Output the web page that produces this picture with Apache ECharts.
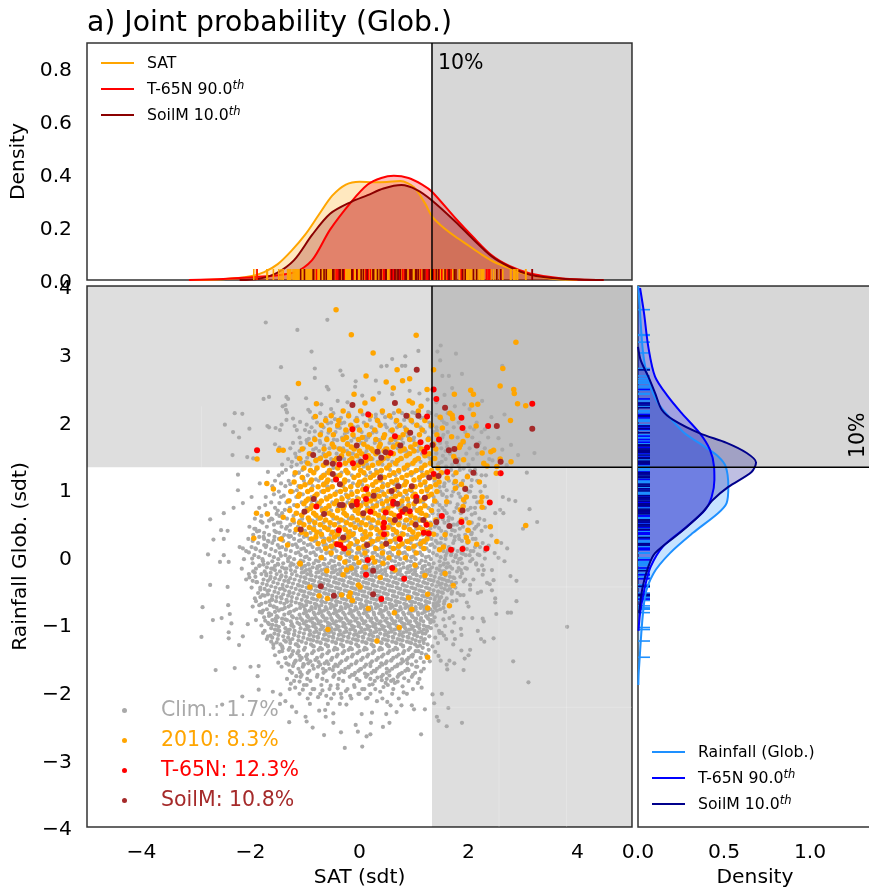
<!DOCTYPE html>
<html><head><meta charset="utf-8">
<script src="https://cdn.jsdelivr.net/npm/echarts@6/dist/echarts.min.js"></script>
<style>html,body{margin:0;padding:0;background:#fff}#c{width:869px;height:889px}</style>
</head><body><div id="c"></div>
<script>
const satP90 = 1.33, rainP90 = 1.32;
const xTicks = [-4,-2,0,2,4], yTicks = [-4,-3,-2,-1,0,1,2,3,4];
const densTicks = [0,0.2,0.4,0.6,0.8], rightTicks = [0,0.5,1];

const climExtra = [[-2.74,-.42],[-2.88,-.75],[-2.9,-1.19],[-2.64,-1.68],[-2.29,-1.65],[-2.69,-.94],[-2.53,-.91],[-2.42,-.45],[-2.41,-.72],[-2.38,-.85],[-2.35,-.99],[-2.4,-1.12],[-2.4,-1.21],[-2.21,-1.31],[-2.14,-1.18],[-2.05,-1],[-2,-1.63],[-1.85,-1.62],[-1.87,-1.77],[-1.85,-1.97],[-2.15,-2.07],[-2.52,-2.19],[-1.59,-2],[-1.45,-2.04],[-1.46,-2.18],[-1.36,-2.14],[-1.24,-2.22],[-1.16,-2.3],[-1.29,-2.45],[-.99,-2.37],[-.97,-2.44],[-.86,-2.53],[-.65,-2.64],[-.34,-2.6],[-.27,-2.83],[.05,-2.81],[-.07,-2.49],[.04,-2.33],[-.48,-2.46],[-.62,-2.37],[-.74,-2.28],[-.63,-2.27],[-.48,-2.32],[-.91,-2.18],[-.58,-2.18],[-.36,-2.18],[-.24,-2.19],[-.03,-2.59],[.13,-2.66],
[3.81,-1.04],[3.1,-1.86],[2.82,-1.55],[2.88,-.66],[2.88,-.36],[2.77,-.29],[2.66,-.07],[2.51,-.85],[2.72,-.83],[2.78,-.83],[2.46,-1.21],[2.29,-1.26],[2.23,-1.22],[2.17,-1.1],[2.26,-.92],[2.28,-.96],[2.07,-.91],[1.91,-.91],[2.03,-1.38],[1.87,-1.39],[2,-1.46],[1.93,-1.51],[1.91,-1.68],[1.74,-1.58],[1.65,-1.54],[1.6,-1.6],[1.61,-1.67],[1.45,-1.47],[1.49,-1.54],[1.51,-2.03],[1.34,-2.04],[1.37,-2.17],[1.63,-2.24],[1.42,-2.37],[1.45,-2.43],[1.6,-2.51],[1.88,-2.46],[1.13,-2.63],[1.2,-2.26],[1,-2.26],[.96,-2.2],[.77,-2.2],[.68,-2.3],[.57,-2.2],[.49,-2.33],[.55,-2.46],[.43,-2.52],[.32,-2.14],[.51,-2.15],[.2,-2.63],[.21,-2.46],[.23,-2.31],[.81,-2.01],[.87,-2.03],[1.14,-1.94],[1.07,-1.87],[.38,-2],[.29,-1.96],[.44,-1.93],[.48,-1.87],[.65,-1.87],[.7,-1.85],[.79,-1.92],[1.44,-1.28],[1.72,-1.3],[1.75,-1.22],[1.59,-1.22],[1.55,-1.17],[1.51,-1.13],[1.39,-1.2],[1.87,-1.16],[1.86,-1.07],[1.7,-1.11],[1.57,-1.03],[1.46,-1.1],[1.47,-1.13],[1.74,-.98],[1.54,-.93],[1.65,-.91],[1.71,-.88],[1.97,-.68],[2,-.74],[1.78,-.65],[1.54,-.76],[1.57,-.82],[1.42,-.8],[1.69,-.55],[1.85,-.57],[1.91,-.57],[2.17,-.54],[2.23,-.52],[2.43,-.5],[2.49,-.62],[2.49,-.68],[2.34,-.39],[2.39,-.41],[2.46,-.35],[2.03,-.42],[2.03,-.49],[1.91,-.37],[1.94,-.34],[2.09,-.34],[2.26,-.27],[2.18,-.2],[2.28,-.2],[2.25,-.13],[2.14,-.12],[2.43,-.2],[1.94,-.17],[1.88,-.25],[1.66,-.15],[1.6,-.16],[1.8,-.09],[2.03,-.07],
[-1.72,3.46],[-1.14,3.35],[-.59,3.5],[-.88,3.03],[-1.44,2.8],[-.82,2.78],[-.82,2.64],[-.35,2.75],[-.31,2.68],[-.07,2.59],[-.08,2.51],[-.6,2.51],[-.57,2.47],[-1.34,2.36],[-1.31,2.33],[-1.36,2.24],[-1.41,2.22],[-1.76,2.33],[-1.66,2.36],[-.98,2.34],[-2.29,2.12],[-2.15,2.11],[-2.47,1.95],[-2.32,1.84],[-2.21,1.76],[-2.02,1.89],[-2.33,1.5],[-2.06,1.47],[-1.95,1.45],[-1.69,1.93],[-1.66,1.91],[-1.54,1.9],[-1.43,1.95],[-1.46,1.87],[-1.55,1.66],[-1.47,1.61],[-1.34,2.02],[-1.22,2.04],[-1.09,1.99],[-1.19,1.93],[-1.15,1.87],[-.97,1.95],[-1,1.87],[-.94,2.17],[-.91,2.14],[-1.33,2.13],[-1.35,2.17],
[1.49,3.12],[1.43,3.03],[1.77,3],[1.48,2.9],[1.88,2.7],[1.52,2.67],[1.64,2.67],[1.08,3.04],[.84,2.96],[.6,2.92],[.4,2.81],[.5,2.82],[.78,2.82],[.84,2.82],[1.7,2.49],[2.25,2.3],[2.66,2.1],[2.62,2.82],[3.21,1.53],[2.91,1.5],[3.07,1.24],[3.12,.7],[3.26,.51],[3,.41],[2.74,.84],[2.86,.82],[2.63,.88],[2.49,.64],[2.64,.64],[2.58,.69],[2.29,.54],[2.31,.44],
[-2.23,1.21],[-2.23,.98],[-1.83,1.08],[-1.68,1.25],[-1.98,.88],[-2.14,.79],[-2.31,.72],[-2.49,.64],[-2.74,.55],[-2.54,.39],[-2.42,.38],[-2.68,.25],[-2.49,.26],[-2.2,.14],[-2.14,.12],[-2.78,.03],[-2.49,.02],[-2.56,-.08],[-2.4,-.08],[2.6,.2],[2.48,.05],[2.71,.12],[2.55,-.02],[2.42,.31],[2.37,.16],[2.3,-.03],[1.25,2.32],[1.41,2.28],[1.1,2.41],[.92,2.45],[.3,2.6],[.05,2.38],[-.4,2.3],[-.22,2.28],[-.7,2.25],[-.52,2.18],[.6,2.4],[.36,2.42],[1.56,2.39],[2.02,2.18],[1.92,2.25],[2.42,2.06],[2.3,1.88],[2.55,1.75],[2.1,1.88],[2.78,1.65],[2.62,1.58],[2.44,1.42],[1.75,2.22],[1.6,1.96],[2.7,1.35],[2.32,1.2]];

const climClumps = [[-1.93,.41],[-1.88,.37],[-1.81,.52],[-1.76,.29],[-1.71,.16],[-1.67,.22],[-2.03,.06],[-1.97,-.03],[-1.91,.12],[-1.83,-.13],[-1.77,-.07],[-1.71,-.26],[-1.64,-.33],[-1.59,-.18],[-2.02,-.31],[-1.95,-.22],[-1.89,-.38],[-1.82,-.49],[-1.78,-.57],[-1.69,-.51],[-1.61,-.63],[-1.57,-.74],[-1.9,-.66],[-1.84,-.72],[-1.79,-.83],[-1.73,-.95],[-1.66,-.88],[-1.6,-1.01],[-1.54,-.92],[-1.5,-1.09],[-1.77,-1.13],[-1.7,-1.22],[-1.63,-1.17],[-1.58,-1.3],[-1.52,-1.27],[-1.47,-1.41],[-1.41,-1.36],[-1.36,-1.5],[-1.55,-1.46],[-1.49,-1.57],[-1.43,-1.63],[-1.34,-1.58],[-1.28,-1.69],[-1.22,-1.62],[-1.16,-1.77],[-1.09,-1.71],[-1.33,-1.81],[-1.26,-1.88],[-1.18,-1.94],[-1.1,-1.85],[-1.04,-1.97],[-.97,-1.9],[-.9,-2.03],[-.83,-1.96],[-.76,-2.08],[-.68,-1.98],[-.61,-2.06],[-.53,-1.91],[-.47,-2.03],[-.4,-1.95],[-.33,-2.09],[-.25,-1.99],[-.17,-2.06],[-.09,-1.93],[0,-2.03],[.09,-1.96],[.15,-2.09],[.24,-1.89],[.33,-1.79],[.41,-1.83],[.55,-1.76],[.62,-1.82],[.74,-1.74],[.82,-1.8],[.9,-1.68],[.98,-1.75],[1.06,-1.63],[1.13,-1.7],[1.18,-1.56],[1.23,-1.47],[1.27,-1.38],[1.29,-1.55],[1.34,-1.33],[1.39,-1.41],[1.41,-1.02],[1.36,-.96],[1.42,-.69],[1.47,-.62],[1.51,-.53],[1.56,-.66],[1.59,-.43],[1.63,-.36],[1.66,-.47],[1.72,-.31],[1.77,-.39],[1.82,-.17],[1.86,-.03],[1.9,.04],[1.77,.02],[1.69,.05],[1.62,.09],[1.97,.11],[2.02,.02],[2.09,.08],[2.17,.03],[2.21,.14],[2.13,.26],[2.05,.33],[2.11,.41],[2.18,.47],[2.06,.62],[1.99,.69],[2.12,.72],[1.74,.24],[1.82,.31],[1.7,.39],[1.79,.47],[1.64,.58],[1.74,.66],[1.8,.77],[1.69,.9],[1.82,.93],[2.03,.96],[2.13,.88],[2.06,1.13],[2.13,1.22],[2.03,1.27],[1.91,1.3],[1.82,1.35],[1.68,1.28],[1.59,1.33],[1.46,1.38],[1.53,1.49],[1.41,1.53],[1.61,1.62],[1.48,1.68],[1.54,1.8],[1.42,1.86],[1.3,1.92],[1.17,1.87],[1.06,1.95],[.99,1.72],[.89,1.78],[.77,1.74],[.69,1.91],[.56,1.86],[.47,1.95],[.34,1.72],[.24,1.83],[.1,1.77],[-.03,1.92],[-.15,1.71],[-.27,1.81],[-.36,1.9],[-.47,1.73],[-.57,1.83],[-.65,1.64],[-.73,1.71],[-.85,1.58],[-.96,1.46],[-1.07,1.39],[-1.16,1.47],[-1.25,1.33],[-1.12,1.24],[-1.03,1.16],[-1.27,1.07],[-1.15,.98],[-1.39,.9],[-1.28,.83],[-1.47,.79],[-1.37,.69],[-1.52,.63],[-1.6,.55],[-1.45,.5],[-1.33,.44],[-1.53,.36],[-1.42,.28],[-1.31,.31],[-1.57,.24],[-1.47,.13],[-1.35,.1],[-1.44,.01],[-1.31,-.03],[-1.5,-.11],[-1.37,-.18],[-1.25,-.1],[-1.44,-.3],[-1.31,-.36],[-1.41,-.47],[-1.28,-.54],[-1.44,-.6],[-1.33,-.67],[-1.41,-.78],[-1.29,-.83],[-1.36,-.93],[-1.24,-1],[-1.31,-1.09],[-1.2,-1.15],[-1.27,-1.24],[-1.15,-1.3],[-1.22,-1.4],[-1.1,-1.47],[-1.17,-1.54],[-1.03,-1.59],[-.96,-1.52],[-.86,-1.61],[-.75,-1.56],[-.67,-1.66],[-.57,-1.59],[-.49,-1.68],[-.4,-1.62],[-.28,-1.71],[-.2,-1.64],[-.1,-1.75],[.01,-1.67],[.1,-1.73],[.2,-1.62],[.29,-1.7],[.4,-1.58],[.5,-1.66],[.58,-1.54],[.69,-1.62],[.78,-1.52],[.88,-1.58],[.95,-1.47],[1.03,-1.4],[1.11,-1.32],[1.17,-1.24],[1.21,-1.14],[1.26,-1.04],[1.29,-.94],[1.33,-.86],[1.36,-.73],[1.39,-.6],[1.44,-.52],[1.47,-.42],[1.51,-.33],[1.53,-.22],[1.55,-.1],[1.58,.01],[1.43,.2],[1.5,.27],[1.58,.36],[1.46,.42],[1.53,.55],[1.45,.62],[1.56,.68],[1.47,.76],[1.52,.91],[1.6,.98],[1.47,1.03],[1.56,1.08],[-1.08,1.68],[-.93,1.74],[-.82,1.85],[-.7,1.94],[-.58,1.97],[-.45,2.03],[-.33,1.97],[-.2,2.07],[-.08,2.01],[.06,2.1],[.19,2.02],[.3,2.1],[.47,2.06],[.63,2.12],[.82,2.02],[.97,2.13],[1.12,2.05],[1.26,2.14],[1.41,2.09],[1.51,2.02],[.38,1.63],[.13,1.56],[-.12,1.52],[-.39,1.6],[.62,1.66],[.86,1.56],[1.09,1.62],[1.26,1.48],[-.7,1.47],[-.48,1.31],[-.2,1.24],[.08,1.33],[.35,1.26],[.62,1.22],[.88,1.3],[1.14,1.26],[-.8,1.14],[-.58,1.03],[-.25,.99],[.05,1.06],[.37,.97],[.64,1.07],[.91,.98],[1.22,1.03],[-.88,.82],[-.55,.73],[-.2,.86],[.14,.74],[.4,.83],[.76,.72],[1.02,.78],[1.28,.71],[-1.06,.5],[-.76,.56],[-.44,.48],[-.11,.57],[.22,.46],[.52,.56],[.82,.47],[1.1,.56]];

const climRows = [
[2.12,-.72,-.48,-.2,.15,.42,.78,1.02,1.3,1.62],
[2.05,-.85,-.62,-.34,-.05,.3,.58,.9,1.18,1.48,1.88],
[1.98,-.78,-.52,-.28,.08,.36,.66,.97,1.28,1.55,1.82,2.15],
[1.91,-.88,-.66,-.41,-.1,.22,.5,.83,1.12,1.41,1.73,2.03],
[1.84,-.92,-.7,-.44,-.22,.04,.31,.6,.86,1.2,1.36,1.62,1.94,2.24],
[1.76,-1.1,-.83,-.6,-.32,-.1,.16,.45,.72,1,1.27,1.52,1.8,2.07,2.36],
[1.68,-1.22,-.96,-.72,-.5,-.22,.03,.28,.55,.8,1.1,1.35,1.6,1.92,2.2],
[1.6,-1.27,-1.02,-.8,-.55,-.3,-.08,.2,.47,.7,.98,1.22,1.5,1.78,2.02,2.3],
[1.52,-1.18,-.9,-.66,-.42,-.16,.1,.36,.62,.89,1.15,1.41,1.66,1.96,2.16],
[1.44,-1.31,-1.08,-.78,-.52,-.28,0,.24,.52,.78,1.04,1.3,1.58,1.82,2.08,2.38],
[1.36,-1.42,-1.15,-.9,-.62,-.36,-.11,.14,.42,.68,.92,1.2,1.44,1.7,2.0,2.27],
[1.28,-1.35,-1.05,-.8,-.55,-.24,.03,.3,.56,.82,1.08,1.33,1.6,1.84,2.12],
[1.2,-1.48,-1.2,-.95,-.68,-.42,-.14,.12,.4,.66,.95,1.21,1.47,1.72,1.98,2.24],
[1.12,-1.55,-1.3,-1.02,-.75,-.5,-.2,.06,.32,.58,.84,1.1,1.38,1.64,1.9,2.16],
[1.04,-1.6,-1.36,-1.12,-.86,-.6,-.3,-.03,.25,.52,.77,1.02,1.3,1.55,1.8,2.05,2.3],
[.96,-1.48,-1.22,-.95,-.7,-.42,-.15,.14,.42,.7,.96,1.24,1.48,1.72,2,2.22],
[.88,-1.72,-1.44,-1.16,-.88,-.62,-.33,-.05,.22,.5,.8,1.08,1.36,1.6,1.85,2.1,2.34],
[.8,-1.62,-1.34,-1.06,-.78,-.5,-.22,.06,.33,.6,.9,1.17,1.42,1.66,1.93,2.16],
[.72,-1.84,-1.55,-1.28,-.97,-.7,-.4,-.14,.16,.44,.71,1,1.26,1.52,1.78,2.04,2.3],
[.64,-1.7,-1.42,-1.14,-.85,-.6,-.3,-.02,.26,.54,.82,1.1,1.34,1.6,1.86,2.12],
[.56,-1.92,-1.62,-1.33,-1.05,-.77,-.48,-.2,.08,.36,.65,.93,1.2,1.44,1.7,1.96,2.2],
[.5,-1.78,-1.5,-1.2,-.92,-.66,-.38,-.1,.19,.47,.74,1.02,1.3,1.56,1.82,2.06],
[.44,-2.02,-1.7,-1.43,-1.13,-.83,-.55,-.28,.02,.3,.57,.85,1.12,1.38,1.63,1.9,2.14],
[.38,-1.84,-1.56,-1.28,-1,-.72,-.44,-.17,.11,.4,.68,.96,1.23,1.5,1.75,2.01,2.24],
[.32,-1.95,-1.66,-1.38,-1.1,-.8,-.53,-.25,.05,.33,.61,.88,1.16,1.42,1.68,1.94],
[.26,-2.04,-1.75,-1.48,-1.2,-.92,-.64,-.36,-.08,.2,.48,.76,1.04,1.32,1.58,1.83,2.08],
[.2,-1.86,-1.6,-1.3,-1.02,-.75,-.46,-.18,.12,.4,.67,.94,1.22,1.49,1.72,1.98,2.26],
[.14,-1.98,-1.72,-1.42,-1.14,-.86,-.58,-.3,0,.28,.56,.84,1.12,1.38,1.64,1.9,2.12],
[.08,-2.08,-1.82,-1.54,-1.26,-.98,-.7,-.42,-.14,.15,.44,.72,1,1.28,1.54,1.8,2.04,2.3],
[.02,-1.93,-1.65,-1.36,-1.08,-.8,-.52,-.24,.04,.33,.6,.87,1.15,1.42,1.68,1.95,2.2],
[-.04,-2.12,-1.78,-1.49,-1.2,-.92,-.64,-.36,-.1,.18,.46,.75,1.03,1.31,1.57,1.83,2.07],
[-.1,-1.96,-1.68,-1.4,-1.12,-.84,-.56,-.26,-.02,.24,.52,.8,1.1,1.36,1.62,1.88,2.14],
[-.14,-1.84,-1.55,-1.27,-1,-.73,-.45,-.17,.1,.38,.66,.93,1.2,1.48],
[-.18,-2.16,-1.9,-1.62,-1.34,-1.06,-.78,-.5,-.22,.05,.32,.6,.88,1.15,1.42,1.7,1.97],
[-.22,-1.74,-1.46,-1.18,-.9,-.62,-.35,-.07,.2,.47,.74,1.02,1.29,1.56,1.79],
[-.26,-2.03,-1.8,-1.52,-1.24,-.96,-.68,-.4,-.12,.15,.42,.7,.98,1.24,1.5],
[-.3,-1.91,-1.63,-1.35,-1.08,-.8,-.53,-.25,.03,.3,.58,.85,1.12,1.38,1.66,1.85],
[-.34,-2.08,-1.76,-1.47,-1.19,-.91,-.64,-.37,-.09,.18,.46,.73,1.01,1.27,1.55],
[-.38,-1.88,-1.58,-1.3,-1.02,-.74,-.47,-.2,.07,.35,.62,.9,1.17,1.44,1.69],
[-.42,-1.7,-1.41,-1.13,-.86,-.58,-.3,-.04,.24,.51,.79,1.06,1.33,1.58],
[-.46,-1.98,-1.82,-1.54,-1.25,-.97,-.7,-.43,-.15,.12,.4,.68,.95,1.22,1.5,1.76],
[-.5,-1.66,-1.37,-1.09,-.81,-.55,-.27,0,.28,.55,.83,1.1,1.36,1.62],
[-.54,-1.86,-1.49,-1.21,-.93,-.65,-.38,-.11,.17,.44,.72,1,1.27,1.53,1.8],
[-.58,-1.74,-1.6,-1.31,-1.03,-.76,-.49,-.21,.06,.33,.61,.88,1.15,1.43],
[-.62,-1.92,-1.43,-1.15,-.87,-.6,-.32,-.05,.22,.5,.77,1.04,1.3,1.6],
[-.66,-1.65,-1.53,-1.25,-.98,-.7,-.43,-.16,.12,.39,.66,.93,1.21,1.46,1.7],
[-.7,-1.8,-1.38,-1.1,-.82,-.54,-.27,.01,.28,.55,.82,1.09,1.36,1.55],
[-.74,-1.96,-1.58,-1.3,-1.02,-.74,-.47,-.2,.07,.34,.61,.89,1.17,1.4],
[-.78,-1.7,-1.44,-1.16,-.88,-.6,-.33,-.05,.22,.49,.76,1.03,1.3,1.48],
[-.82,-1.83,-1.55,-1.27,-.98,-.7,-.42,-.15,.13,.4,.67,.94,1.2,1.35],
[-.86,-1.62,-1.38,-1.1,-.82,-.54,-.27,0,.27,.55,.82,1.08,1.29],
[-.9,-1.75,-1.5,-1.22,-.94,-.66,-.38,-.11,.16,.43,.7,.98,1.24,1.38],
[-.94,-1.9,-1.6,-1.33,-1.05,-.77,-.5,-.22,.05,.32,.6,.87,1.12,1.32],
[-.98,-1.68,-1.42,-1.14,-.86,-.58,-.3,-.03,.24,.51,.78,1.05,1.3],
[-1.02,-1.8,-1.53,-1.25,-.97,-.7,-.42,-.14,.14,.41,.68,.95,1.18],
[-1.06,-1.62,-1.36,-1.08,-.8,-.52,-.25,.03,.3,.57,.84,1.1,1.31],
[-1.1,-1.74,-1.47,-1.19,-.91,-.63,-.36,-.08,.2,.47,.74,1.01,1.24],
[-1.14,-1.56,-1.3,-1.02,-.74,-.47,-.18,.1,.38,.65,.92,1.16],
[-1.18,-1.68,-1.4,-1.12,-.84,-.56,-.29,-.02,.25,.53,.8,1.06,1.28],
[-1.22,-1.5,-1.23,-.95,-.67,-.4,-.12,.16,.43,.7,.97,1.2],
[-1.26,-1.62,-1.35,-1.06,-.78,-.5,-.23,.05,.32,.6,.87,1.1],
[-1.3,-1.45,-1.17,-.89,-.62,-.34,-.06,.22,.5,.76,1.02,1.25],
[-1.35,-1.58,-1.28,-1,-.72,-.45,-.17,.1,.38,.66,.93,1.16],
[-1.4,-1.42,-1.12,-.84,-.56,-.28,0,.27,.55,.82,1.08],
[-1.45,-1.24,-.96,-.68,-.4,-.12,.16,.44,.72,.98,1.22],
[-1.5,-1.36,-1.06,-.78,-.5,-.22,.06,.34,.62,.9,1.12],
[-1.55,-1.18,-.9,-.6,-.33,-.05,.23,.5,.8,1.04],
[-1.6,-1.3,-1.02,-.72,-.44,-.15,.12,.42,.7,.96],
[-1.66,-1.12,-.84,-.55,-.26,.03,.32,.6,.88,1.18],
[-1.72,-1.24,-.95,-.66,-.37,-.08,.22,.5,.78,1.02],
[-1.78,-1.08,-.78,-.48,-.18,.12,.4,.7,.96],
[-1.84,-1.2,-.9,-.6,-.3,0,.28,.58,.9],
[-1.9,-1.02,-.7,-.4,-.1,.18,.52],
[-1.96,-1.28,-.86,-.55,-.22,.05,.62,.98],
[-2.03,-1.1,-.72,-.34,-.02,.2,.6],
[-2.1,-.95,-.52,-.15,.12,.42,.72]
];
const climRowsB = [
[1.72,-.97,-.41,.12,.37,.66,.93,1.44],[1.56,-1.1,-.74,-.23,.29,.55,.81,1.07,1.58],[1.4,-1.24,-.99,-.45,-.04,.33,.6,1.12,1.51],
[1.24,-1.42,-1.11,-.6,-.33,.2,.73,1,1.54],[1.08,-1.44,-.93,-.66,-.12,.43,.7,1.2,1.73],[.92,-1.57,-1.04,-.79,-.25,.31,.6,.87,1.53],
[.76,-1.73,-1.2,-.89,-.33,.24,.53,.79,1.34,1.59],[.68,-1.5,-1.02,-.52,-.07,.38,.95,1.45],[.6,-1.8,-1.47,-1.21,-.69,-.13,.45,.73,1.27,1.53],
[.53,-1.66,-1.1,-.86,-.29,.27,.83,1.08,1.63],[.47,-1.57,-1.27,-.73,-.47,-.02,.55,.9,1.41,1.73],[.41,-1.91,-1.35,-1.06,-.6,-.36,.2,.48,1.04,1.3,1.84],
[.35,-1.75,-1.47,-1.19,-.9,-.37,-.1,.51,.77,1.31,1.59,2.06],[.29,-1.84,-1.56,-1.29,-1.02,-.7,-.45,.13,.39,.94,1.24,1.75],[.23,-1.96,-1.68,-1.4,-1.11,-.83,-.55,-.27,.3,.58,.85,1.12,1.4,1.88],
[.17,-1.75,-1.5,-1.23,-.95,-.66,-.4,-.09,.19,.47,.76,1.04,1.3,1.56],[.11,-1.9,-1.62,-1.35,-1.07,-.78,-.5,-.22,.07,.35,.63,.92,1.2,1.46,1.72],[.05,-1.73,-1.46,-1.17,-.9,-.61,-.33,-.05,.24,.52,.79,1.08,1.35,1.6,1.87],
[-.01,-1.85,-1.57,-1.28,-1,-.72,-.44,-.17,.11,.39,.67,.95,1.22,1.49,1.76],[-.07,-1.6,-1.31,-1.03,-.75,-.47,-.19,.09,.37,.65,.94,1.21,1.47,1.72],[-.12,-1.76,-1.49,-1.21,-.93,-.64,-.37,-.09,.17,.45,.73,1.01,1.28,1.54],
[-.16,-1.7,-1.42,-1.15,-.86,-.59,-.31,-.04,.25,.53,.81,1.06,1.33,1.6],[-.2,-1.55,-1.26,-.98,-.7,-.43,-.15,.13,.4,.68,.95,1.23,1.47,1.86],[-.24,-1.92,-1.63,-1.35,-1.06,-.79,-.51,-.24,.04,.31,.59,.86,1.14,1.4,1.65],
[-.28,-1.71,-1.43,-1.15,-.88,-.6,-.32,-.04,.23,.5,.78,1.05,1.31,1.58],[-.32,-1.55,-1.27,-.99,-.71,-.44,-.16,.11,.39,.66,.94,1.2,1.47,1.74],[-.36,-1.96,-1.68,-1.38,-1.1,-.83,-.56,-.29,-.01,.26,.54,.81,1.09,1.36,1.6],
[-.4,-1.78,-1.5,-1.22,-.94,-.66,-.38,-.12,.16,.43,.7,.98,1.25,1.51],[-.44,-1.62,-1.33,-1.05,-.78,-.51,-.23,.05,.32,.6,.87,1.14,1.41,1.66],[-.48,-1.74,-1.46,-1.17,-.89,-.62,-.35,-.07,.2,.47,.75,1.03,1.29,1.56],
[-.52,-1.56,-1.29,-1.01,-.73,-.46,-.19,.09,.37,.64,.91,1.18,1.45,1.7],[-.56,-1.68,-1.4,-1.12,-.84,-.57,-.3,-.02,.25,.52,.8,1.07,1.34],[-.6,-1.82,-1.52,-1.24,-.96,-.69,-.41,-.14,.14,.41,.69,.96,1.24,1.5],
[-.64,-1.6,-1.34,-1.06,-.78,-.51,-.24,.03,.31,.58,.85,1.13,1.38],[-.68,-1.72,-1.45,-1.17,-.9,-.62,-.35,-.08,.2,.47,.74,1.02,1.28],[-.72,-1.64,-1.26,-.98,-.7,-.43,-.15,.12,.4,.67,.95,1.22,1.45],
[-.76,-1.52,-1.37,-1.09,-.81,-.53,-.26,.02,.3,.57,.84,1.12,1.38],[-.8,-1.77,-1.48,-1.2,-.92,-.65,-.37,-.1,.18,.45,.72,1,1.26],[-.84,-1.66,-1.3,-1.02,-.75,-.47,-.19,.08,.36,.63,.9,1.15],
[-.88,-1.52,-1.24,-.96,-.68,-.4,-.13,.15,.42,.7,.96,1.22],[-.92,-1.42,-1.15,-.87,-.6,-.33,-.05,.22,.5,.77,1.04,1.26],[-.96,-1.53,-1.26,-.98,-.71,-.43,-.16,.11,.39,.66,.93,1.17],
[-1,-1.66,-1.4,-1.1,-.82,-.54,-.27,0,.29,.56,.83,1.1],[-1.04,-1.48,-1.21,-.93,-.66,-.38,-.1,.18,.45,.72,.99,1.23],[-1.08,-1.55,-1.28,-1,-.72,-.45,-.17,.1,.37,.64,.91,1.18],
[-1.12,-1.36,-1.1,-.83,-.56,-.28,0,.27,.54,.81,1.08],[-1.16,-1.49,-1.2,-.92,-.65,-.38,-.1,.18,.46,.73,1],[-1.2,-1.6,-1.31,-1.03,-.76,-.48,-.2,.07,.34,.62,.9,1.13],
[-1.24,-1.38,-1.12,-.85,-.58,-.31,-.03,.24,.52,.79,1.03],[-1.28,-1.27,-.98,-.71,-.43,-.15,.13,.41,.68,.95,1.18],[-1.33,-1.42,-1.12,-.84,-.58,-.3,-.02,.26,.54,.8,1.06],
[-1.38,-1.3,-1.02,-.75,-.47,-.2,.08,.36,.62,.9],[-1.43,-1.14,-.87,-.59,-.31,-.04,.24,.52,.8,1.14],[-1.48,-1.27,-.98,-.7,-.42,-.14,.14,.41,.68,.97],
[-1.53,-1.09,-.81,-.52,-.25,.03,.31,.59,.87],[-1.58,-1.2,-.94,-.64,-.36,-.07,.2,.48,.76],[-1.63,-1.04,-.76,-.47,-.2,.09,.37,.65,1.04],
[-1.69,-.92,-.62,-.33,-.02,.26,.55,.84],[-1.75,-1.06,-.77,-.46,-.14,.15,.43,.72],[-1.81,-.96,-.68,-.38,-.05,.2,.5,1.1]
];
const climRowsC = [
[.3,-1.26,-.97,-.68,-.4,-.14,.14,.43,.7,.99,1.27],[.24,-1.08,-.8,-.5,-.22,.06,.34,.62,.9,1.17],[.18,-1.17,-.9,-.62,-.34,-.05,.22,.5,.79,1.07,1.33],
[.12,-1.02,-.74,-.46,-.18,.1,.38,.66,.95,1.23],[.06,-1.12,-.84,-.56,-.28,0,.28,.56,.83,1.11],[0,-.97,-.69,-.41,-.13,.14,.43,.71,.99,1.27],
[-.06,-1.08,-.8,-.52,-.24,.04,.31,.59,.87,1.14],[-.11,-.94,-.66,-.38,-.11,.16,.44,.72,1,1.27],[-.15,-1.05,-.77,-.5,-.22,.07,.33,.61,.89,1.16],
[-.19,-.92,-.64,-.36,-.09,.19,.47,.75,1.02,1.29],[-.23,-1.02,-.75,-.47,-.2,.08,.36,.63,.91,1.18],[-.27,-.9,-.62,-.34,-.06,.21,.49,.76,1.04],
[-.31,-1.01,-.73,-.46,-.18,.1,.37,.65,.92,1.19],[-.35,-.87,-.59,-.32,-.04,.23,.51,.78,1.06,1.31],[-.39,-.99,-.71,-.43,-.16,.12,.4,.67,.94,1.2],
[-.43,-1.11,-.83,-.55,-.28,0,.27,.55,.82,1.09],[-.47,-.94,-.67,-.39,-.11,.16,.44,.71,.99,1.26],[-.51,-1.06,-.78,-.5,-.23,.04,.32,.6,.87,1.14],
[-.55,-.9,-.62,-.34,-.07,.21,.48,.76,1.03,1.3],[-.59,-1.01,-.73,-.45,-.18,.1,.37,.64,.92,1.19],[-.63,-.84,-.56,-.29,-.02,.26,.53,.81,1.08],
[-.67,-.95,-.68,-.4,-.12,.15,.42,.7,.97,1.24],[-.71,-1.06,-.79,-.51,-.23,.04,.32,.59,.86,1.13],[-.75,-.88,-.62,-.34,-.07,.21,.48,.75,1.03],
[-.79,-1,-.73,-.45,-.17,.1,.38,.65,.92,1.19],[-.83,-.84,-.57,-.3,-.02,.26,.53,.8,1.07],[-.87,-.96,-.68,-.41,-.13,.14,.42,.69,.96],
[-.91,-1.08,-.8,-.52,-.25,.03,.3,.58,.85,1.13],[-.95,-.91,-.63,-.36,-.08,.2,.47,.74,1.02],[-.99,-1.02,-.75,-.47,-.19,.08,.36,.63,.9],
[-1.03,-.85,-.58,-.3,-.02,.25,.53,.8,1.06],[-1.07,-.96,-.69,-.41,-.13,.15,.42,.69,.96],[-1.11,-.79,-.52,-.24,.04,.31,.59,.86,1.13],
[-1.15,-.9,-.62,-.34,-.06,.21,.49,.76,1.02],[-1.19,-.77,-.49,-.21,.06,.33,.61,.88],[-1.23,-.9,-.62,-.34,-.07,.2,.47,.74],
[-1.27,-.72,-.44,-.17,.11,.39,.66,.92],[-1.32,-.86,-.58,-.3,-.03,.25,.52,.8],[-1.37,-.69,-.41,-.14,.13,.41,.69]
];
const clim = climExtra.concat(climClumps,[...climRows,...climRowsB,...climRowsC].flatMap(r => r.slice(1).map(x => [x, r[0]])));

const y2010Extra = [[-.43,3.65],[-.15,3.28],[1.04,3.27],[2.87,3.17],[.25,3.01],[2.63,2.78],[.69,2.76],[1.36,2.76],[.12,2.67],[.92,2.63],[.79,2.6],[.49,2.58],[-1.12,2.56],[2.58,2.52],[.62,2.49],[1.24,2.47],[2.04,2.46],[2.83,2.47],[2.84,2.41],[1.74,2.4],[2.09,2.4],[-.1,2.4],[.25,2.33],[.1,2.27],[-.79,2.26],[.91,2.3],[.97,2.27],[1.13,2.22],[2.06,2.24],[2.17,2.25],[2.9,2.26],[3.05,2.23],[2.09,2.1],[-.81,2.07],[2.77,2.01],[2.14,1.93],[1.7,2.09],[1.71,2.04],[1.48,2.06],[1.66,2.12],[1.52,1.9],[1.69,1.77],[1.98,1.79],[1.9,1.7],[1.85,1.65],[1.83,1.61],[2.25,1.53],[2.46,1.57],[2.41,1.55],[1.73,1.48],[1.76,1.43],[1.91,1.43],[2.78,1.4],[2.58,1.44],[2.28,1.38],[2.34,1.34],[2.51,1.23],[2.52,1.33],[1.77,1.24],[1.61,1.16],[1.98,1.18],[1.76,1.11],[1.87,1.07],[2.2,1.1],[1.76,1.01],[1.94,1.01],[-1.48,1.57],[-1.4,1.57],[-1.88,1.44],[-1.7,1.08],[-1.58,1],[-1.89,.64],[-1.69,.63],[-1.4,.58],[-1.94,.27],[-1.44,.26],[-1.32,.17],[-1.09,-.11],[2.25,.88],[2.23,.81],[2.25,.73],[1.91,.84],[1.96,.88],[1.9,.74],[1.6,.81],[1.85,.69],[1.87,.54],[2.01,.5],[1.99,.39],[1.96,.28],[1.99,.22],[2.15,.18],[2.4,.44],[2.52,.22],[3.05,.46],[1.72,-.43],[1.57,-.25],[1.54,.14],[1.47,.1],[1.57,.32],[1.65,-.73],[1.25,-.56],[1.2,-.28],[1.25,-.76],[.96,-.78],[.9,-.61],[.64,-.83],[.73,-1.05],[.32,-1.25],[1.25,-1.49],[1.02,-.13],[.43,-.1],[.28,-.08],[.38,-.31],[.65,-.2],[-1.09,-.1],[-.6,-.21],[-.91,-.45],[-.74,-.58],[-.59,-.62],[-.33,-.57],[-.17,-.54],[-.19,-.59],[-.13,-.65],[-.02,-.42],[.01,-.45],[.16,-.77],[-.58,-1.08],[-.3,-.27],[-.24,-.2],[-.15,-.17],[.11,-.16],[-.01,-.09],[-.27,-.08]];
const y2010Rows = [
[2.15,-.3,.02,.42,.72,1.08],[2.08,-.52,-.2,.2,.55,.88],[2.01,-.62,-.38,-.05,.33,.68,.95,1.2],
[1.94,-.7,-.4,-.16,.13,.38,.74,1.05,1.32],[1.87,-.55,-.25,.0,.28,.6,.86,1.15],[1.8,-.72,-.48,-.12,.18,.46,.8,1.1,1.42],
[1.73,-.82,-.6,-.3,-.02,.3,.58,.92,1.26],[1.66,-.9,-.5,-.22,.08,.38,.7,1.02,1.36],[1.59,-1.05,-.65,-.36,-.1,.22,.5,.82,1.14,1.4],
[1.52,-.92,-.56,-.2,.04,.3,.62,.92,1.28],[1.45,-1.1,-.72,-.42,-.14,.2,.44,.76,1.08,1.38],[1.38,-.95,-.6,-.26,.06,.35,.66,.98,1.3],
[1.31,-1.02,-.78,-.4,-.1,.16,.5,.82,1.14,1.44],[1.24,-1.18,-.84,-.56,-.22,.08,.32,.63,.95,1.24,1.5],[1.17,-1.05,-.7,-.44,-.1,.2,.46,.78,1.1,1.38],
[1.1,-1.2,-.9,-.6,-.28,.0,.3,.6,.86,1.2,1.46],[1.03,-1.08,-.76,-.5,-.16,.14,.42,.73,1.02,1.3],[.96,-1.26,-.95,-.66,-.35,-.04,.26,.54,.84,1.14,1.42],
[.89,-1.12,-.82,-.54,-.22,.08,.36,.66,.98,1.26],[.82,-1.3,-.98,-.7,-.42,-.12,.2,.5,.78,1.1,1.38],[.75,-1.14,-.86,-.56,-.28,.02,.31,.6,.9,1.2],
[.68,-1.28,-.96,-.68,-.4,-.08,.14,.44,.76,1.06,1.32],[.61,-1.06,-.8,-.5,-.24,.06,.35,.64,.94,1.22],[.54,-1.22,-.92,-.62,-.34,-.04,.24,.56,.86,1.12,1.4],
[.47,-1.02,-.72,-.46,-.16,.12,.42,.72,1.02,1.3],[.4,-1.16,-.84,-.58,-.26,.02,.32,.62,.92,1.16],[.33,-.98,-.7,-.4,-.12,.2,.5,.8,1.08,1.36],
[.26,-.88,-.56,-.28,.06,.34,.66,.96,1.24],[.19,-.76,-.44,-.16,.18,.48,.78,1.12],[.12,-.62,-.3,-.02,.3,.62,.9,1.18],
[.05,-.52,-.2,.1,.42,.72,1.04],[-.02,-.7,-.36,-.06,.24,.54,.84],
[1.76,-.24,.05,.44,.72],[1.62,-.47,-.15,.15,.36,.62,.94],[1.56,-.3,.0,.25,.45,.75,1.0],[1.49,-.62,-.33,-.05,.16,.53,.86,1.2],
[1.42,-.8,-.46,-.18,.12,.4,.7,1.02],[1.35,-.66,-.36,-.02,.24,.55,.88,1.2],[1.27,-.9,-.55,-.25,.02,.4,.72,1.04,1.32],[1.2,-.65,-.36,-.02,.26,.55,.87,1.16],
[1.13,-.88,-.58,-.27,.1,.38,.68,1],[1.06,-1,-.66,-.33,-.03,.24,.52,.83,1.12,1.4],[.99,-.88,-.58,-.26,.06,.33,.64,.94,1.24],[.92,-1.1,-.78,-.45,-.14,.16,.45,.74,1.02,1.32],
[.85,-.94,-.6,-.32,-.02,.28,.58,.88,1.18],[.78,-1.02,-.74,-.46,-.16,.12,.42,.72,1],[.71,-.9,-.62,-.3,-.02,.24,.52,.84,1.12],[.64,-1.16,-.84,-.56,-.28,-.02,.28,.58,.86,1.14],
[.57,-.94,-.72,-.42,-.14,.16,.44,.74,1.02],[.5,-1.1,-.82,-.54,-.24,.04,.34,.62,.96,1.22],[.43,-.92,-.64,-.36,-.08,.22,.52,.82,1.08],[.36,-1.06,-.78,-.5,-.2,.1,.38,.68,.98,1.26],
[.29,-.8,-.46,-.2,.12,.42,.74,1.04],[.22,-.66,-.34,-.04,.24,.56,.88,1.18],[.15,-.52,-.2,.08,.42,.72,1]
];
const y2010 = y2010Extra.concat(y2010Rows.flatMap(r => r.slice(1).map(x => [x, r[0]])));

const t65 = [[-1.88,1.57],[1.36,2.47],[1.41,2.33],[.16,2.1],[1.24,2.07],[1.87,2.05],[1.89,1.9],[-.13,1.88],[2.36,1.93],[3.17,2.26],[.65,1.78],[1.46,1.73],[1.12,1.69],[1.24,1.61],[1.19,1.55],[.57,1.53],[.11,1.47],[-.12,1.38],[-.37,1.36],[1.61,1.25],[1.36,1.22],[2.59,1.23],[-.43,1.14],[.12,1],[.12,.85],[-.79,.74],[-.05,.81],[-.05,.77],[.62,.81],[.62,.78],[.2,.66],[.48,.65],[.92,.67],[.79,.66],[.73,.6],[1.04,.88],[2.39,.8],[1.51,.6],[1.87,.51],[.45,.5],[.44,.43],[1.23,.47],[-.38,.39],[.45,.33],[1.18,.35],[1.27,.34],[.74,.26],[-.41,.18],[-.35,.17],[-.28,.12],[1.68,.1],[1.89,.11],[2.33,.12],[.15,-.05],[.6,-.17],[.82,-.33],[.12,-.27],[.4,-.63]];
const soil = [[1.05,2.76],[.65,2.27],[-.13,2.24],[1.57,2.2],[.86,2.08],[1.08,2.08],[2.52,1.93],[3.17,1.89],[.93,1.83],[.75,1.64],[-.05,1.64],[2.15,1.64],[1.34,1.65],[1.64,1.57],[1.74,1.59],[.33,1.55],[.48,1.54],[-.85,1.5],[-.37,1.45],[.4,1.46],[-.61,1.39],[-.49,1.37],[.03,1.4],[1.77,1.41],[2.59,1.4],[2.09,1.24],[1.45,1.19],[1.28,1.17],[-.49,1.22],[.38,1.17],[-.36,1.07],[.71,1.04],[.96,1.04],[1.94,1],[.59,.97],[.26,.9],[-.84,.85],[1.04,.82],[1.2,.87],[-.36,.76],[-.31,.76],[-.14,.75],[.69,.78],[-1.01,.66],[-.65,.63],[.07,.64],[.84,.7],[1.89,.68],[.65,.54],[1.17,.54],[1.41,.51],[1.03,.47],[1.65,.45],[-1.08,.4],[-.3,.28],[.49,.19],[.14,.17],[.25,-.21],[-.71,-.44],[-.47,-.58],[.25,-.56]];

const kdeSat = [[-3.1,0],[-2.5,.003],[-2,.014],[-1.75,.03],[-1.5,.06],[-1.25,.11],[-1,.17],[-.75,.245],[-.5,.318],[-.25,.36],[0,.371],[.25,.369],[.5,.37],[.75,.373],[1,.35],[1.2,.29],[1.33,.24],[1.5,.205],[1.75,.165],[2,.13],[2.25,.095],[2.5,.065],[2.75,.045],[3,.025],[3.5,.006],[4,0]];
const kdeT65 = [[-3.13,0],[-2.5,.004],[-1.85,.012],[-1.2,.028],[-.87,.075],[-.54,.19],[-.15,.295],[.15,.36],[.4,.385],[.63,.393],[.9,.385],[1.15,.36],[1.33,.333],[1.76,.233],[2.08,.163],[2.42,.094],[2.75,.053],[3.13,.025],[3.72,.006],[4.48,0]];
const kdeSoil = [[-2.2,0],[-1.85,.005],[-1.53,.025],[-1.2,.075],[-.87,.17],[-.54,.25],[-.15,.295],[.15,.32],[.44,.345],[.77,.358],[1.05,.34],[1.33,.3],[1.76,.22],[2.08,.155],[2.42,.09],[2.75,.05],[3.13,.02],[3.72,.005],[4.48,0]];
const kdeRain = [[.002,-1.9],[.005,-1.68],[.04,-.6],[.09,-.25],[.186,.05],[.32,.35],[.465,.64],[.515,.79],[.525,1.03],[.51,1.33],[.466,1.48],[.39,1.62],[.273,1.82],[.197,2.02],[.116,2.27],[.06,2.61],[.03,3],[.012,3.6],[.002,4]];
const kdeRainT = [[.003,-1.1],[.012,-.84],[.04,-.45],[.074,-.15],[.146,.15],[.283,.44],[.39,.69],[.428,.88],[.444,1.13],[.442,1.33],[.418,1.58],[.36,1.82],[.254,2.12],[.176,2.36],[.099,2.66],[.06,3.1],[.035,3.6],[.012,3.97]];
const kdeRainS = [[.006,-.84],[.027,-.45],[.06,-.15],[.099,.05],[.244,.35],[.37,.64],[.436,.84],[.525,1.03],[.66,1.25],[.686,1.39],[.632,1.53],[.515,1.68],[.36,1.82],[.205,2.02],[.138,2.17],[.099,2.42],[.06,2.66],[.016,2.9],[0,3.1]];

const seams = [[[2.56,1.32],[2.56,-4]],[[3.8,1.32],[3.8,-4]],[[1.33,-.45],[5,-.45]],[[1.33,-2.23],[5,-2.23]],[[-2.9,2.22],[-2.9,1.32]]];

const FONT = 'DejaVu Sans';
const C = {gray:'#a9a9a9',orange:'#ffa500',red:'#ff0000',darkred:'#8b0000',brown:'#a52a2a',dodger:'#1e90ff',blue:'#0000ff',navy:'#00008b'};
const lab = {color:'#000',fontFamily:FONT,fontSize:20.3};
const minusFmt = v => String(v).replace('-','\u2212');

function hiddenAxis(gridIndex,min,max){
  return {type:'value',gridIndex,min,max,axisLine:{show:false},axisTick:{show:false},splitLine:{show:false},axisLabel:{show:false}};
}
function labelled(gridIndex,min,max,ticks,fmt,name,gap,isY){
  return {type:'value',gridIndex,min,max,axisLine:{show:false},axisTick:{show:false},splitLine:{show:false},
    axisLabel:Object.assign({},lab,{show:true,margin:isY?15:16,customValues:ticks,
      formatter:isY?(v=>'{a|'+fmt(v)+'}'):fmt},
      isY?{rich:{a:{fontFamily:FONT,fontSize:20.3,color:'#000',padding:[6,0,0,0]}}}:{}),
    name,nameLocation:'middle',nameGap:gap,nameTextStyle:{color:'#000',fontFamily:FONT,fontSize:20.3}};
}
function kdeTop(name,data,color){
  return {name,type:'line',xAxisIndex:0,yAxisIndex:0,data,smooth:.3,showSymbol:false,silent:true,z:3,
    lineStyle:{color,width:2},itemStyle:{color},areaStyle:{color,opacity:.25}};
}
function kdeRight(name,data,color){
  return {name,type:'line',xAxisIndex:2,yAxisIndex:2,data,smooth:.3,showSymbol:false,silent:true,z:5,
    lineStyle:{color,width:2},itemStyle:{color}};
}
function fillRight(data,color){
  return {type:'custom',xAxisIndex:2,yAxisIndex:2,coordinateSystem:'cartesian2d',data,silent:true,z:3,
    encode:{x:0,y:1},
    renderItem(params,api){
      if(params.dataIndex!==0) return null;
      const pts=[[0,data[0][1]]].concat(data,[[0,data[data.length-1][1]]]).map(p=>api.coord(p));
      return {type:'polygon',shape:{points:pts},style:{fill:color,opacity:.25}};
    }};
}
function rugTop(pts,color){
  return {type:'scatter',xAxisIndex:0,yAxisIndex:0,data:pts.map(p=>[p[0],0]),symbol:'rect',symbolSize:[1.6,11],symbolOffset:[0,-5.5],
    itemStyle:{color,opacity:1},silent:true,z:4,animation:false};
}
function rugRight(pts,color){
  return {type:'scatter',xAxisIndex:2,yAxisIndex:2,data:pts.map(p=>[0,p[1]]),symbol:'rect',symbolSize:[12,1.6],symbolOffset:[6,0],
    itemStyle:{color,opacity:1},silent:true,z:4,animation:false};
}
function pts(name,data,color,size,z){
  return {name,type:'scatter',xAxisIndex:1,yAxisIndex:1,data,symbolSize:size,itemStyle:{color,opacity:1},silent:true,z,animation:false};
}
function vline(xi,yi,data,z){
  return {type:'line',xAxisIndex:xi,yAxisIndex:yi,data,showSymbol:false,silent:true,z:z||8,lineStyle:{color:'#000',width:1.5},animation:false};
}
const lineLegendFmt = n => { const t=n.trim(); return t.endsWith('.0') ? '{a|'+t+'}{b|th}' : '{a|'+t+'}'; };
const lineRich = {a:{fontFamily:FONT,fontSize:15.7,color:'#000',padding:[0,0,0,8],verticalAlign:'bottom',lineHeight:18},
  b:{fontFamily:FONT,fontSize:11.5,fontStyle:'italic',color:'#000',verticalAlign:'top',lineHeight:12,padding:[0,0,6,0]}};

const labels4 = {'Clim.: 1.7%':'g','2010: 8.3%':'o','T-65N: 12.3%':'r','SoilM: 10.8%':'k'};
const mk = color => ({fontFamily:FONT,fontSize:20.5,color,padding:[0,0,0,29]});
const gridBase = {show:true,borderColor:'#333',borderWidth:1.5,backgroundColor:'transparent',outerBoundsMode:'none',containLabel:false};

const option = {
  animation:false,
  backgroundColor:'#fff',
  title:{text:'a) Joint probability (Glob.)',left:82,top:5,textStyle:{fontFamily:FONT,fontSize:28.3,fontWeight:'normal',color:'#000'}},
  grid:[
    Object.assign({left:87,top:43,width:545,height:237},gridBase),
    Object.assign({left:87,top:286,width:545,height:541},gridBase),
    Object.assign({left:638,top:286,width:234,height:541},gridBase)
  ],
  xAxis:[
    hiddenAxis(0,-5,5),
    labelled(1,-5,5,xTicks,minusFmt,'SAT (sdt)',41,false),
    labelled(2,0,1.36,rightTicks,v=>v.toFixed(1),'Density',41,false)
  ],
  yAxis:[
    labelled(0,0,.894,densTicks,v=>v.toFixed(1),'Density',47,true),
    labelled(1,-4,4,yTicks,minusFmt,'Rainfall Glob. (sdt)',44,true),
    hiddenAxis(2,-4,4)
  ],
  legend:[
    {orient:'vertical',left:101,top:56,padding:0,icon:'rect',itemWidth:33,itemHeight:2,itemGap:8,data:['SAT','T-65N 90.0','SoilM 10.0'],
      formatter:lineLegendFmt,textStyle:{rich:lineRich},selectedMode:false},
    {orient:'vertical',left:652,top:745,padding:0,icon:'rect',itemWidth:33,itemHeight:2,itemGap:8,data:['Rainfall (Glob.)','T-65N 90.0 ','SoilM 10.0 '],
      formatter:lineLegendFmt,textStyle:{rich:lineRich},selectedMode:false},
    {orient:'vertical',left:122,top:700,padding:0,icon:'circle',itemWidth:5,itemHeight:5,itemGap:9,data:Object.keys(labels4),
      formatter:n=>'{'+labels4[n]+'|'+n+'}',
      textStyle:{rich:{g:mk(C.gray),o:mk(C.orange),r:mk(C.red),k:mk(C.brown)}},selectedMode:false}
  ],
  series:[
    kdeTop('SAT',kdeSat,C.orange),
    kdeTop('T-65N 90.0',kdeT65,C.red),
    kdeTop('SoilM 10.0',kdeSoil,C.darkred),
    rugTop(y2010,C.orange),rugTop(t65,C.red),rugTop(soil,C.darkred),
    {type:'line',xAxisIndex:0,yAxisIndex:0,data:[],silent:true,z:6,
      markArea:{silent:true,itemStyle:{color:'rgba(0,0,0,0.155)'},data:[[{coord:[satP90,0]},{coord:[5,.894]}]]}},
    vline(0,0,[[satP90,0],[satP90,.894]]),

    pts('Clim.: 1.7%',clim,C.gray,4.2,2),
    pts('2010: 8.3%',y2010,C.orange,5.5,3),
    pts('T-65N: 12.3%',t65,C.red,6,4),
    pts('SoilM: 10.8%',soil,C.brown,6,4),
    {type:'line',xAxisIndex:1,yAxisIndex:1,data:[],silent:true,z:6,
      markArea:{silent:true,itemStyle:{color:'rgba(0,0,0,0.13)'},data:[
        [{coord:[-5,rainP90]},{coord:[5,4]}],
        [{coord:[satP90,-4]},{coord:[5,4]}]]}},
    ...seams.map(s=>({type:'line',xAxisIndex:1,yAxisIndex:1,data:s,showSymbol:false,silent:true,z:7,lineStyle:{color:'rgba(255,255,255,0.22)',width:1},animation:false})),
    vline(1,1,[[satP90,rainP90],[satP90,4]]),
    vline(1,1,[[satP90,rainP90],[5,rainP90]]),

    fillRight(kdeRain,C.dodger),fillRight(kdeRainT,C.blue),fillRight(kdeRainS,C.navy),
    rugRight(y2010,C.dodger),rugRight(t65,C.blue),rugRight(soil,C.navy),
    kdeRight('Rainfall (Glob.)',kdeRain,C.dodger),
    kdeRight('T-65N 90.0 ',kdeRainT,C.blue),
    kdeRight('SoilM 10.0 ',kdeRainS,C.navy),
    {type:'line',xAxisIndex:2,yAxisIndex:2,data:[],silent:true,z:6,
      markArea:{silent:true,itemStyle:{color:'rgba(0,0,0,0.155)'},data:[[{coord:[0,rainP90]},{coord:[1.36,4]}]]}},
    vline(2,2,[[0,rainP90],[1.36,rainP90]])
  ],
  graphic:[
    {type:'text',left:438,top:53,z:20,style:{text:'10%',font:'20.5px "DejaVu Sans"',fill:'#000'}},
    {type:'text',x:848,y:458,rotation:Math.PI/2,z:20,style:{text:'10%',font:'20.5px "DejaVu Sans"',fill:'#000'}}
  ]
};
const chart = echarts.init(document.getElementById('c'),null,{renderer:'canvas'});
chart.setOption(option);
</script></body></html>
